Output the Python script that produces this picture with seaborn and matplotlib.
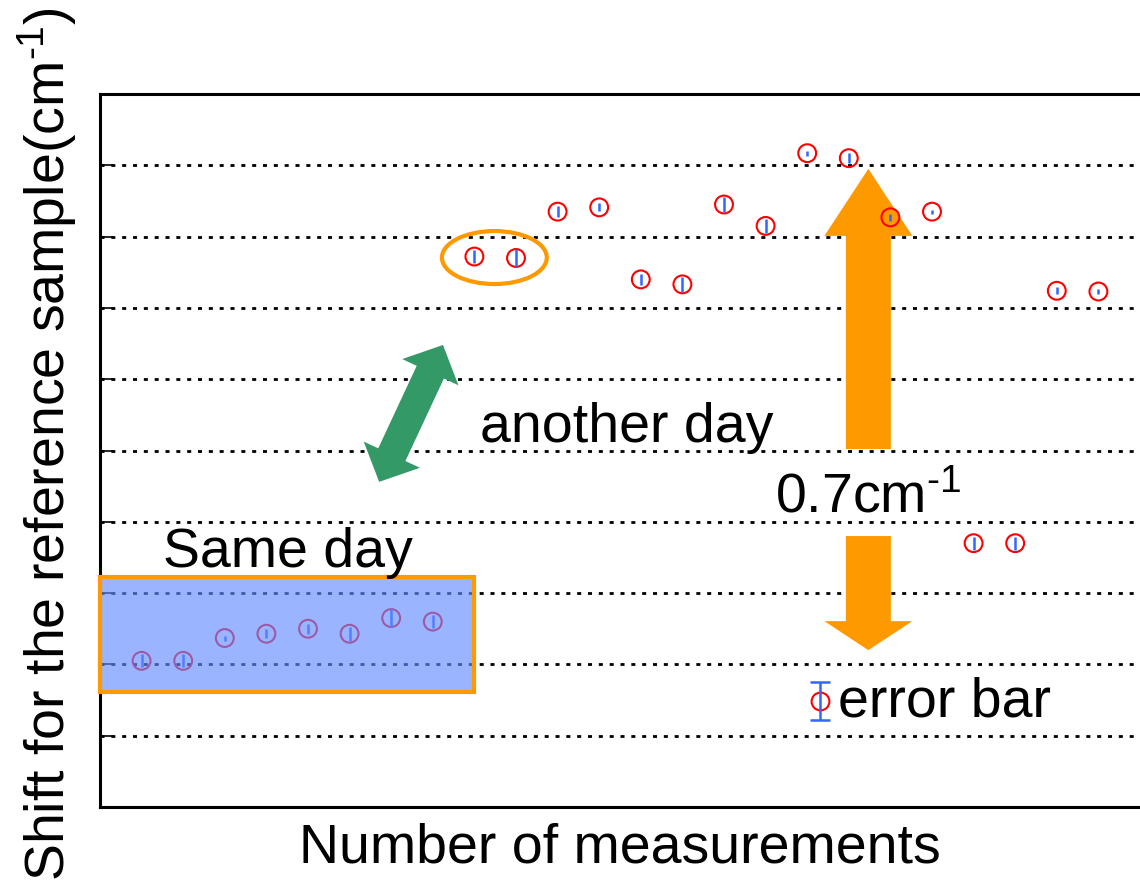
import matplotlib
matplotlib.use("Agg")
import matplotlib.pyplot as plt
import matplotlib.patches as mpatches
import numpy as np
import pandas as pd
import seaborn as sns

# ---- data ----
measurement = list(range(1, 25))
shift = [2.05, 2.05, 2.37, 2.43, 2.50, 2.43, 2.65, 2.60,
         7.72, 7.70, 8.35, 8.41, 7.40, 7.33, 8.45, 8.15,
         9.17, 9.10, 8.27, 8.35, 3.70, 3.70, 7.24, 7.23]
error = [0.09, 0.09, 0.035, 0.063, 0.07, 0.10, 0.126, 0.09,
         0.094, 0.12, 0.08, 0.056, 0.075, 0.10, 0.10, 0.098,
         0.033, 0.07, 0.045, 0.03, 0.09, 0.09, 0.05, 0.035]
grid_levels = [1, 2, 3, 4, 5, 6, 7, 8, 9]

df = pd.DataFrame({"n": measurement, "shift": shift, "err": error})

sns.set_theme(style="white")
plt.rcParams["font.family"] = ["Liberation Sans", "DejaVu Sans"]
plt.rcParams["mathtext.fontset"] = "custom"
plt.rcParams["mathtext.rm"] = "Liberation Sans"
plt.rcParams["mathtext.it"] = "Liberation Sans:italic"
plt.rcParams["mathtext.bf"] = "Liberation Sans:bold"

W, H = 1140, 895
fig = plt.figure(figsize=(W / 100, H / 100), dpi=100)
ax = fig.add_axes([100 / W, (H - 808) / H, 1040 / W, 713 / H])

RED = "#ff0000"
BLUE = "#3366ff"
ORANGE = "#ff9900"
GREEN = "#339966"

sns.scatterplot(data=df, x="n", y="shift", ax=ax, marker="o", s=165,
                facecolors="none", edgecolor=RED, linewidth=1.5, zorder=3,
                legend=False)
ax.errorbar(df["n"], df["shift"], yerr=df["err"], fmt="none",
            ecolor=BLUE, elinewidth=1.8, capsize=0, zorder=4)

ax.set_xlim(0, 25)
ax.set_ylim(0, 10)
ax.set_xticks([])
ax.set_yticks(grid_levels)
ax.set_yticklabels([])
ax.tick_params(axis="y", direction="in", length=9, width=1.2, color="black", left=True)

for g in grid_levels:
    ax.axhline(g, color="black", linewidth=2.0, linestyle=(0, (1.45, 2.45)), zorder=1)

for side in ["left", "bottom", "top"]:
    ax.spines[side].set_color("black")
    ax.spines[side].set_linewidth(2.2)
ax.spines["right"].set_visible(False)

ax.set_xlabel("Number of measurements", fontsize=40, color="black")
ax.xaxis.set_label_coords(0.5, -0.020)
ax.xaxis.label.set_verticalalignment("top")
ax.set_ylabel(r"Shift for the reference sample(cm$^{\text{-}1}$)", fontsize=40, color="black")
ax.yaxis.set_label_coords(-0.020, 0.51)

# same-day box (drawn on top, semi transparent)
box = mpatches.Rectangle((0.0, 1.61), 9.0, 1.62, facecolor=(0.40, 0.55, 1.0),
                         alpha=0.65, edgecolor="none", zorder=5, clip_on=False)
ax.add_patch(box)
box_edge = mpatches.Rectangle((0.0, 1.61), 9.0, 1.62, facecolor="none",
                              edgecolor=ORANGE, linewidth=3, zorder=6, clip_on=False)
ax.add_patch(box_edge)

# ellipse around first points of another day
ell = mpatches.Ellipse((9.48, 7.706), 2.52, 0.743, facecolor="none",
                       edgecolor=ORANGE, linewidth=3, zorder=5)
ax.add_patch(ell)


def arrow_polygon(p_from, p_to, shaft, head_w, head_l, color, double=False):
    """Arrow between two data points; widths given in pixels."""
    a = ax.transData.transform(p_from)
    b = ax.transData.transform(p_to)
    u = (b - a) / np.hypot(*(b - a))
    n = np.array([-u[1], u[0]])
    pts = [b,
           b - u * head_l + n * head_w / 2,
           b - u * head_l + n * shaft / 2]
    if double:
        pts += [a + u * head_l + n * shaft / 2,
                a + u * head_l + n * head_w / 2,
                a,
                a + u * head_l - n * head_w / 2,
                a + u * head_l - n * shaft / 2]
    else:
        pts += [a + n * shaft / 2, a - n * shaft / 2]
    pts += [b - u * head_l - n * shaft / 2,
            b - u * head_l - n * head_w / 2]
    pts = fig.transFigure.inverted().transform(np.array(pts))
    poly = mpatches.Polygon(pts, closed=True, facecolor=color, edgecolor="none",
                            transform=fig.transFigure, zorder=2.5, clip_on=False)
    ax.add_patch(poly)


# orange arrows (0.7 cm-1 span)
arrow_polygon((18.47, 5.02), (18.47, 8.95), 45, 88, 67, ORANGE)
arrow_polygon((18.47, 3.80), (18.47, 2.20), 45, 88, 29, ORANGE)
# green double arrow
arrow_polygon((6.71, 4.56), (8.245, 6.48), 30, 62, 30, GREEN, double=True)

# texts
ax.text(1.51, 3.38, "Same day", fontsize=40, color="black", va="baseline", ha="left", zorder=7)
ax.text(9.13, 5.13, "another day", fontsize=40, color="black", va="baseline", ha="left", zorder=7)
ax.text(16.23, 4.15, r"0.7cm$^{\text{-}1}$", fontsize=40, color="black", va="baseline", ha="left", zorder=7)
ax.text(17.74, 1.28, "error bar", fontsize=40, color="black", va="baseline", ha="left", zorder=7)

# error bar legend symbol
ax.errorbar([17.31], [1.49], yerr=[0.266], fmt="none", ecolor=BLUE,
            elinewidth=1.8, capsize=7, capthick=1.8, zorder=4)
ax.plot([17.31], [1.49], marker="o", markersize=12.8, markerfacecolor="none",
        markeredgecolor=RED, markeredgewidth=1.5, linestyle="none", zorder=3)

fig.savefig("out.png", dpi=100)
